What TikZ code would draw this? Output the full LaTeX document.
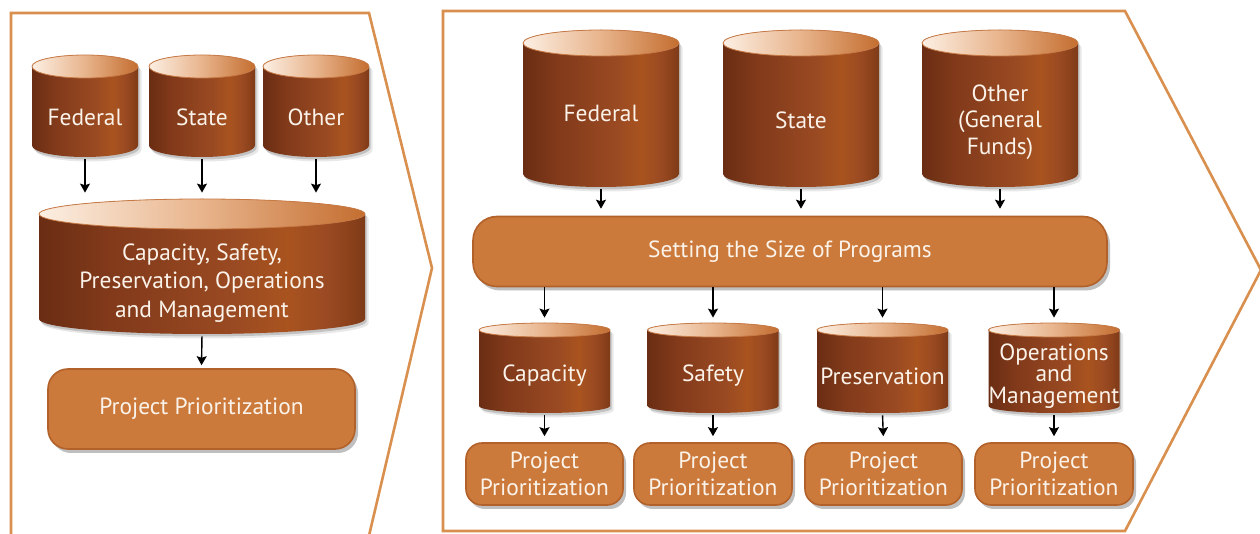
\documentclass[tikz,border=0pt]{standalone}
\usepackage{fontspec}
\setmainfont{PT Sans}
\usetikzlibrary{arrows.meta,shadows}

\definecolor{panelc}{HTML}{D98F4E}
\definecolor{boxfill}{HTML}{CB7A3B}
\definecolor{boxdraw}{HTML}{B2612A}
\definecolor{txtc}{HTML}{FBF3EA}
\definecolor{cbA}{HTML}{6A2D13}
\definecolor{cbB}{HTML}{80391A}
\definecolor{cbC}{HTML}{9A4A22}
\definecolor{cbD}{HTML}{A9531F}
\definecolor{cbE}{HTML}{8E431C}
\definecolor{cbF}{HTML}{7E3A18}
\definecolor{ctA}{HTML}{FCEFE3}
\definecolor{ctB}{HTML}{E8B48C}
\definecolor{ctC}{HTML}{C46E30}
\definecolor{rimc}{HTML}{C77A45}

\pgfdeclarehorizontalshading{cylbody}{100bp}{color(0bp)=(cbA); color(25bp)=(cbA); color(35bp)=(cbB); color(55bp)=(cbC); color(63bp)=(cbD); color(69bp)=(cbC); color(72bp)=(cbE); color(75bp)=(cbF); color(100bp)=(cbF)}
\pgfdeclarehorizontalshading{cyltop}{100bp}{color(0bp)=(ctA); color(25bp)=(ctA); color(50bp)=(ctB); color(75bp)=(ctC); color(100bp)=(ctC)}

\tikzset{
  panel/.style={draw=panelc, line width=1.3pt, line join=miter},
  cylnode/.style={draw=none, inner sep=0pt},
  cyltext/.style={text=txtc, inner sep=0pt, align=center, font=\fontsize{11.7}{14.2}\selectfont},
  ppbox/.style={fill=boxfill, draw=boxdraw, line width=0.8pt, text=txtc, align=center,
     inner sep=0pt, font=\fontsize{11.7}{13.5}\selectfont,
     drop shadow={shadow xshift=1.5pt, shadow yshift=-2pt, opacity=.25, fill=black}},
  arr/.style={-{Stealth[length=4.5pt,width=5pt,inset=0.8pt]}, line width=0.7pt, black}
}

% [text opts], name, cx, top, width, ry, side height, text y, text
\newcommand\mycyl[9][]{%
  \foreach \dx/\dy/\op in {1.5/2.5/0.16, 3.5/4.5/0.09} {
    \fill[black, opacity=\op] ({#3-#5/2+\dx},{#4+#6+\dy}) -- ({#3-#5/2+\dx},{#4+#6+#7+\dy})
      arc[start angle=180,end angle=0,x radius=#5/2,y radius=#6] -- ({#3+#5/2+\dx},{#4+#6+\dy})
      arc[start angle=0,end angle=-180,x radius=#5/2,y radius=#6] -- cycle;
  }
  \shade[shading=cylbody] ({#3-#5/2},{#4+#6}) -- ({#3-#5/2},{#4+#6+#7})
      arc[start angle=180,end angle=0,x radius=#5/2,y radius=#6] -- ({#3+#5/2},{#4+#6})
      arc[start angle=0,end angle=-180,x radius=#5/2,y radius=#6] -- cycle;
  \shade[shading=cyltop] (#3,{#4+#6}) ellipse[x radius=#5/2, y radius=#6];
  \draw[rimc, line width=0.4pt] (#3,{#4+#6}) ellipse[x radius=#5/2, y radius=#6];
  \node[cylnode, minimum width=#5*0.5pt, minimum height={(#7+2*#6)*0.5pt}] (#2) at (#3,{#4+#6+#7/2}) {};
  \node[cyltext,#1] (#2t) at (#3,#8) {#9};
}

\begin{document}
\begin{tikzpicture}[x=0.5pt,y=-0.5pt]
\useasboundingbox (0,0) rectangle (1260,534);
\fill[white] (0,0) rectangle (1260,534);

% panels
\draw[panel] (11,540) -- (11,13) -- (369,13) -- (432,268) -- (368,540);
\draw[panel] (443,531) -- (443,11) -- (1125,11) -- (1261,270) -- (1125,531) -- cycle;

% left panel
\mycyl{lfed}{85}{55}{106}{11.5}{79}{117}{Federal}
\mycyl{lsta}{202}{55}{106}{11.5}{79}{117}{State}
\mycyl{loth}{316}{55}{106}{11.5}{79}{117}{Other}
\mycyl[font=\fontsize{11.7}{14.3}\selectfont]{lbig}{202}{199}{326}{15}{105}{283}{Capacity, Safety,\\Preservation, Operations\\and Management}
\node[ppbox, minimum width=153.5pt, minimum height=40pt, rounded corners=10pt] (lpp) at (201.5,409) {Project Prioritization};

\draw[arr, shorten <=1pt, shorten >=3pt] (lfed.south) -- (lfed.south |- lbig.north);
\draw[arr, shorten <=1pt, shorten >=3pt] (lsta.south) -- (lsta.south |- lbig.north);
\draw[arr, shorten <=1pt, shorten >=3pt] (loth.south) -- (loth.south |- lbig.north);
\draw[arr, shorten <=1pt, shorten >=1.5pt] (lbig.south) -- (lpp.north);

% right panel
\mycyl{rfed}{601}{30}{156}{13}{131}{113}{Federal}
\mycyl{rsta}{801}{30}{156}{13}{131}{120}{State}
\mycyl[font=\fontsize{11.7}{13.3}\selectfont]{roth}{1000}{30}{156}{13}{131}{122}{Other\\(General\\Funds)}
\node[ppbox, minimum width=317pt, minimum height=35pt, rounded corners=12pt] (set) at (790,251.5) {Setting the Size of Programs};

\draw[arr, shorten <=1pt, shorten >=3.5pt] (rfed.south) -- (rfed.south |- set.north);
\draw[arr, shorten <=1pt, shorten >=3.5pt] (rsta.south) -- (rsta.south |- set.north);
\draw[arr, shorten <=1pt, shorten >=3.5pt] (roth.south) -- (roth.south |- set.north);

\mycyl{cap}{544.5}{323}{131}{7}{76}{376}{Capacity}
\mycyl{saf}{713}{323}{131}{7}{76}{376}{Safety}
\mycyl{pres}{882.5}{323}{131}{7}{76}{376}{Preservation}
\mycyl[font=\fontsize{11.7}{10.8}\selectfont]{ops}{1054}{323}{131}{7}{76}{376}{Operations\\and\\Management}

\foreach \c in {cap,saf,pres,ops}{
  \draw[arr, shorten >=2.5pt] (\c.north |- set.south) -- (\c.north);
}

\node[ppbox, minimum width=78.5pt, minimum height=31pt, rounded corners=8pt] (cappp) at (544.5,474) {Project\\Prioritization};
\node[ppbox, minimum width=79pt, minimum height=31pt, rounded corners=8pt] (safpp) at (713,474) {Project\\Prioritization};
\node[ppbox, minimum width=78.5pt, minimum height=31pt, rounded corners=8pt] (prespp) at (883.5,474) {Project\\Prioritization};
\node[ppbox, minimum width=79pt, minimum height=31pt, rounded corners=8pt] (opspp) at (1054,474) {Project\\Prioritization};

\draw[arr, shorten <=1pt, shorten >=3pt] (cap.south) -- (cappp.north);
\draw[arr, shorten <=1pt, shorten >=3pt] (saf.south) -- (safpp.north);
\draw[arr, shorten <=1pt, shorten >=3pt] (pres.south) -- (prespp.north);
\draw[arr, shorten <=1pt, shorten >=3pt] (ops.south) -- (opspp.north);
\end{tikzpicture}
\end{document}
